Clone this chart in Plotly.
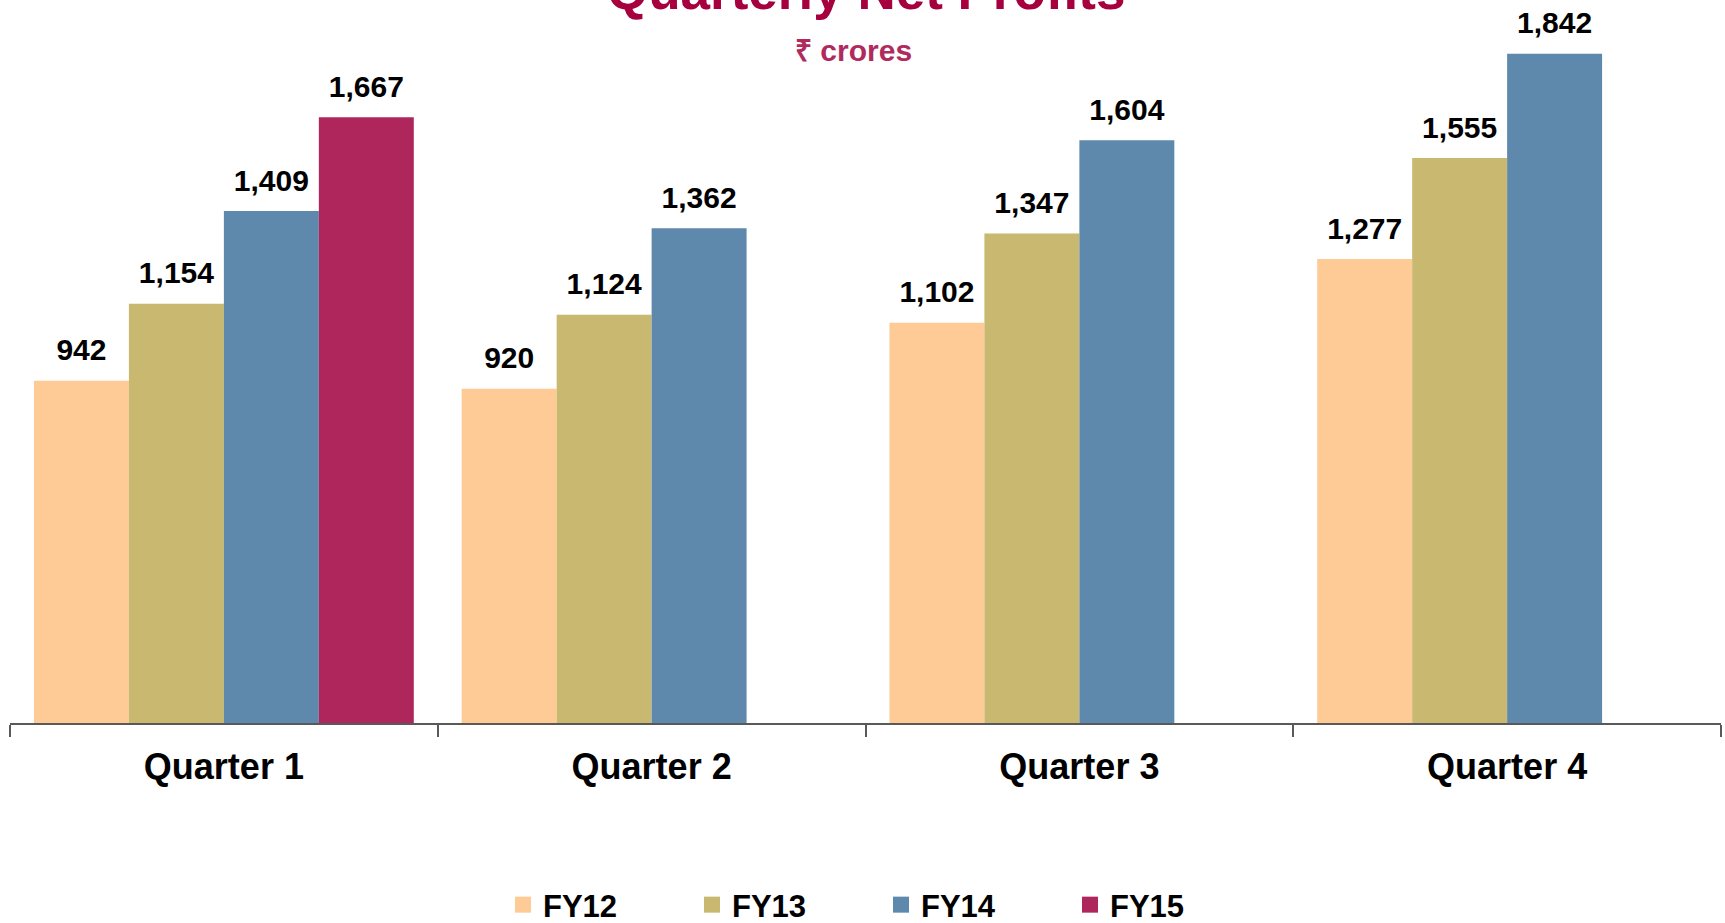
import plotly.graph_objects as go

quarters = ["Quarter 1", "Quarter 2", "Quarter 3", "Quarter 4"]
series_names = ["FY12", "FY13", "FY14", "FY15"]
fy12 = [942, 920, 1102, 1277]
fy13 = [1154, 1124, 1347, 1555]
fy14 = [1409, 1362, 1604, 1842]
fy15 = [1667, None, None, None]
colors = ["#FECA96", "#C9B86F", "#5E89AD", "#AE265C"]

FONT = "Arial, Liberation Sans, sans-serif"
PAD = "<sub><span style='font-size:54px'>&#160;</span></sub>"

fig = go.Figure()
for name, vals, col in zip(series_names, [fy12, fy13, fy14, fy15], colors):
    fig.add_trace(go.Bar(
        x=quarters, y=vals, name=name, legendgroup=name, showlegend=False,
        marker=dict(color=col, line=dict(width=0)),
        text=[f"{v:,}" if v is not None else "" for v in vals],
        texttemplate=PAD + "%{text}" + PAD,
        textposition="outside",
        constraintext="none",
        cliponaxis=False,
        textfont=dict(family=FONT, size=30, color="#000000", weight="bold"),
        hoverinfo="skip",
    ))
# legend keys (square swatches)
for name, col in zip(series_names, colors):
    fig.add_trace(go.Scatter(
        x=[None], y=[None], mode="markers", name=name, legendgroup=name,
        marker=dict(symbol="square", size=16, color=col, line=dict(width=0)),
        hoverinfo="skip",
    ))

fig.update_layout(
    width=1725, height=923,
    barmode="group", bargap=0.112, bargroupgap=0,
    plot_bgcolor="white", paper_bgcolor="white",
    margin=dict(l=10, r=4, t=20, b=200, autoexpand=False),
    showlegend=True,
    legend=dict(
        orientation="h", xref="container", yref="container",
        x=503 / 1725, xanchor="left", y=18 / 923, yanchor="middle",
        entrywidth=144, entrywidthmode="pixels",
        font=dict(family=FONT, size=31, color="#000000", weight="bold"),
        traceorder="normal", itemclick=False, itemdoubleclick=False,
    ),
    xaxis=dict(
        type="category",
        showline=True, linecolor="#595959", linewidth=1.5,
        ticks="outside", tickson="boundaries", ticklen=12, tickwidth=1.5, tickcolor="#595959",
        tickfont=dict(family=FONT, size=36, color="#000000", weight="bold"),
        ticklabelstandoff=11,
        showgrid=False, zeroline=False,
    ),
    yaxis=dict(range=[0, 1935], visible=False, showgrid=False, zeroline=False),
    annotations=[
        dict(text="Quarterly Net Profits", xref="paper", yref="paper",
             x=0.5, y=1.0418, xanchor="center", yanchor="middle", showarrow=False,
             font=dict(family=FONT, size=53, color="#A6003F", weight="bold")),
        dict(text="₹ crores", xref="paper", yref="paper",
             x=0.4927, y=0.9565, xanchor="center", yanchor="middle", showarrow=False,
             font=dict(family=FONT, size=30, color="#B02A5E", weight="bold")),
    ],
)

fig.write_html(
    "out.html",
    config={"displayModeBar": False},
    post_script="document.body.style.margin='0';document.body.style.overflow='hidden';",
)
